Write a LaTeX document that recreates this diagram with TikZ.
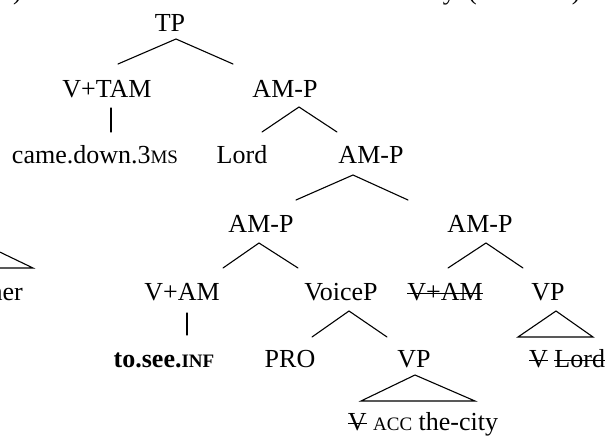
\documentclass[tikz,border=0pt]{standalone}
\usepackage{fontspec}
\setmainfont{Liberation Serif}
\newsavebox{\strkbox}
\newcommand{\strk}[1]{\sbox{\strkbox}{#1}\rlap{\rule[0.22em]{\wd\strkbox}{1.2pt}}\usebox{\strkbox}}
\newcommand{\smc}[1]{{\fontsize{19}{19}\selectfont #1}}
\tikzset{
  lbl/.style={anchor=base, inner sep=0pt, font=\fontsize{26}{30}\selectfont},
  br/.style={line width=1.1pt, line cap=round}
}
\begin{document}
\begin{tikzpicture}[x=1pt, y=-1pt]
\useasboundingbox (0,0) rectangle (608,436);
\clip (0,0) rectangle (608,436);
\fill[white] (0,0) rectangle (608,436);

% clipped example line at the top
\node[lbl, anchor=base east] (exnum) at (22,0) {(5)};
\node[lbl, anchor=base east] (exsent) at (456,0) {the Lord came down to see the city};
\node[lbl, anchor=base west] (exsrc) at (468,0) {(Gen 11:5)};

% labels
\node[lbl] (tp) at (170,32) {TP};
\node[lbl] (vtam) at (107,97) {V+TAM};
\node[lbl] (amp2) at (285,97) {AM-P};
\node[lbl] (came) at (95,163) {came.down.3\smc{MS}};
\node[lbl] (lord) at (242,163) {Lord};
\node[lbl] (amp3) at (371,163) {AM-P};
\node[lbl] (amp4l) at (261,232) {AM-P};
\node[lbl] (amp4r) at (480,232) {AM-P};
\node[lbl, anchor=base east] (her) at (23,300) {father};
\node[lbl] (vam) at (182,300) {V+AM};
\node[lbl] (voicep) at (341,300) {VoiceP};
\node[lbl] (vamx) at (445,300) {\strk{V+AM}};
\node[lbl] (vp1) at (548,300) {VP};
\node[lbl] (tosee) at (164,367) {\bfseries to.see.\smc{INF}};
\node[lbl] (pro) at (290,367) {PRO};
\node[lbl] (vp2) at (414,367) {VP};
\node[lbl, anchor=base west] (vlord) at (529,367) {\strk{V} \strk{Lord}};
\node[lbl] (city) at (423,430) {\strk{V} \smc{ACC} the-city};

% branch points
\coordinate (tpA) at (176,39);  \coordinate (tpL) at (118,64);  \coordinate (tpR) at (233,64);
\coordinate (vtT) at (111,108); \coordinate (vtB) at (111,132);
\coordinate (a2A) at (299,107); \coordinate (a2L) at (262,132); \coordinate (a2R) at (337,132);
\coordinate (a3A) at (353,175); \coordinate (a3L) at (296,200); \coordinate (a3R) at (408,200);
\coordinate (hA) at (-19,243);  \coordinate (hL) at (-71,268);  \coordinate (hR) at (33,268);
\coordinate (a4lA) at (259,243); \coordinate (a4lL) at (223,268); \coordinate (a4lR) at (298,268);
\coordinate (a4rA) at (486,243); \coordinate (a4rL) at (448,268); \coordinate (a4rR) at (523,268);
\coordinate (vaT) at (187,313); \coordinate (vaB) at (187,335);
\coordinate (vcA) at (349,311); \coordinate (vcL) at (312,337); \coordinate (vcR) at (387,337);
\coordinate (v1A) at (556,311); \coordinate (v1L) at (518,337); \coordinate (v1R) at (593,337);
\coordinate (v2A) at (415,375); \coordinate (v2L) at (361,401); \coordinate (v2R) at (475,401);

% branches
\draw[br] (tpL) -- (tpA) -- (tpR);
\draw[br] (vtT) -- (vtB);
\draw[br] (a2L) -- (a2A) -- (a2R);
\draw[br] (a3L) -- (a3A) -- (a3R);
\draw[br] (hA) -- (hR) -- (hL) -- cycle;
\draw[br] (a4lL) -- (a4lA) -- (a4lR);
\draw[br] (a4rL) -- (a4rA) -- (a4rR);
\draw[br] (vaT) -- (vaB);
\draw[br] (vcL) -- (vcA) -- (vcR);
\draw[br] (v1A) -- (v1R) -- (v1L) -- cycle;
\draw[br] (v2A) -- (v2R) -- (v2L) -- cycle;
\end{tikzpicture}
\end{document}
